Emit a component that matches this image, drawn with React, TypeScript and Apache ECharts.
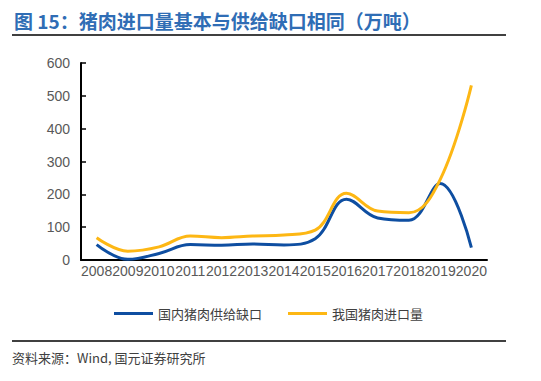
import React, { useEffect, useRef } from "react";
import * as echarts from "echarts";

const years = ["2008", "2009", "2010", "2011", "2012", "2013", "2014", "2015", "2016", "2017", "2018", "2019", "2020"];
const supplyGap = [47, 2, 20, 47, 45, 49, 46, 65, 185, 128, 121, 233, 38];
const imports = [68, 27, 40, 73, 68, 73, 76, 91, 203, 149, 144, 245, 532];
const seriesNames = ["国内猪肉供给缺口", "我国猪肉进口量"];
const titleText = "图 15：猪肉进口量基本与供给缺口相同（万吨）";
const sourceText = "资料来源：Wind, 国元证券研究所";

export default function App() {
  const ref = useRef<HTMLDivElement>(null);
  useEffect(() => {
    const chart = echarts.init(ref.current!, null, { renderer: "svg" });
    const axisFont = { fontFamily: "Liberation Sans, Arial, sans-serif", fontSize: 14, color: "#595959" };
    chart.setOption({
      animation: false,
      grid: { left: 81, right: 54, top: 63, bottom: 121, containLabel: false },
      legend: {
        top: 302,
        left: 109,
        itemWidth: 39,
        itemHeight: 3,
        itemGap: 26,
        icon: "rect",
        textStyle: { fontFamily: "Noto Sans CJK SC", fontSize: 13, color: "#404040" },
        data: seriesNames,
      },
      xAxis: {
        type: "category",
        data: years,
        boundaryGap: true,
        axisLine: { lineStyle: { color: "#000", width: 2 } },
        axisTick: { inside: true, length: 4, lineStyle: { color: "#000", width: 1.5 } },
        axisLabel: { ...axisFont, interval: 0, margin: 4 },
      },
      yAxis: {
        type: "value",
        min: 0,
        max: 600,
        interval: 100,
        splitLine: { show: false },
        axisLine: { show: true, lineStyle: { color: "#000", width: 2 } },
        axisTick: { show: true, inside: true, length: 5, lineStyle: { color: "#000", width: 1.5 } },
        axisLabel: { ...axisFont, margin: 11 },
      },
      series: [
        {
          name: seriesNames[0],
          type: "line",
          data: supplyGap,
          smooth: 0.4,
          symbol: "none",
          lineStyle: { color: "#0E4EA1", width: 3 },
          itemStyle: { color: "#0E4EA1" },
        },
        {
          name: seriesNames[1],
          type: "line",
          data: imports,
          smooth: 0.4,
          symbol: "none",
          lineStyle: { color: "#FDB714", width: 3 },
          itemStyle: { color: "#FDB714" },
        },
      ],
      graphic: [
        {
          type: "text",
          left: 14,
          top: 11,
          style: {
            text: titleText,
            fontFamily: "Noto Sans CJK SC",
            fontWeight: "bold",
            fontSize: 19,
            fill: "#2F6DB5",
          },
        },
        {
          type: "line",
          shape: { x1: 12, y1: 35, x2: 506, y2: 35 },
          style: { stroke: "#000", lineWidth: 1.5 },
        },
        {
          type: "line",
          shape: { x1: 12, y1: 341, x2: 506, y2: 341 },
          style: { stroke: "#000", lineWidth: 1.5 },
        },
        {
          type: "text",
          left: 12,
          top: 351,
          style: {
            text: sourceText,
            fontFamily: "Noto Sans CJK SC",
            fontSize: 13,
            fill: "#404040",
          },
        },
      ],
    });
    return () => chart.dispose();
  }, []);
  return <div ref={ref} style={{ width: 541, height: 381, position: "absolute", left: 0, top: 0 }} />;
}
